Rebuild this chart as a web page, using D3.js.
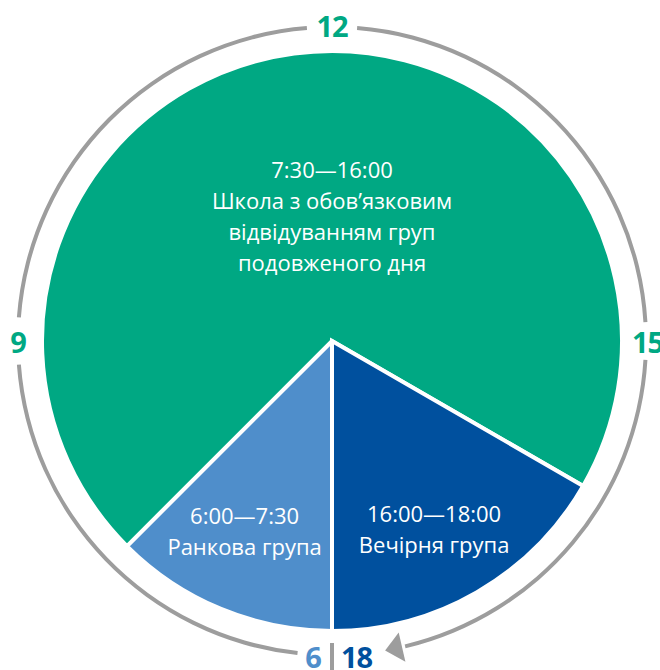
<!DOCTYPE html>
<html lang="uk">
<head>
  <meta charset="UTF-8">
  <title>Режим дня</title>
  <style>
    body { margin: 0; background: #fff; }
    text { font-family: 'Open Sans', 'Noto Sans', sans-serif; }
  </style>
</head>
<body>
  <svg id="svg" width="660" height="670"></svg>
  <script src="https://d3js.org/d3.v7.min.js"></script>
  <script>
    // slices, in clockwise order starting at 6:00
    const periods = ['6:00—7:30', '7:30—16:00', '16:00—18:00']
    const names = [
      ['Ранкова група'],
      ['Школа з обов’язковим', 'відвідуванням груп', 'подовженого дня'],
      ['Вечірня група']
    ]
    const durations = [1.5, 8.5, 2]
    const labelHours = [6.82, 12, 17.05]
    const labelRadius = [210, 125, 214]

    // dial
    const hourTicks = [6, 9, 12, 15, 18]
    const tickLabels = ['6', '9', '12', '15', '18']

    const cx = 332, cy = 341
    const R = 290, ringR = 314

    const svg = d3.select('#svg')
    const g = svg.append('g').attr('transform', `translate(${cx},${cy})`)

    // 6h -> bottom, 12h -> top, 18h -> bottom again (clockwise)
    const angle = d3.scaleLinear().domain([6, 18]).range([Math.PI, 3 * Math.PI])

    const color = d3.scaleOrdinal()
      .domain(periods)
      .range(['#4f8ecb', '#00a883', '#00509e'])

    const pie = d3.pie().sort(null)
      .startAngle(angle(6)).endAngle(angle(18))
    const arc = d3.arc().innerRadius(0).outerRadius(R)

    const slices = pie(durations)

    g.selectAll('path.slice')
      .data(slices)
      .enter()
      .append('path')
      .attr('class', 'slice')
      .attr('d', arc)
      .attr('fill', (d, i) => color(periods[i]))
      .attr('stroke', '#fff')
      .attr('stroke-width', 4)
      .attr('stroke-linejoin', 'miter')

    // slice labels
    const lineH = 31
    slices.forEach((d, i) => {
      const a = angle(labelHours[i])
      const x = labelRadius[i] * Math.sin(a)
      const y = -labelRadius[i] * Math.cos(a)
      const lines = [periods[i]].concat(names[i])
      const top = y - (lines.length - 1) * lineH / 2
      g.append('text')
        .attr('text-anchor', 'middle')
        .attr('fill', '#fff')
        .style('font-size', '22px')
        .selectAll('tspan')
        .data(lines)
        .enter()
        .append('tspan')
        .attr('x', x)
        .attr('y', (l, j) => top + j * lineH + 8)
        .text(l => l)
    })

    // grey dial ring with gaps for the hour numbers
    const gaps = { 9: 0.075, 12: 0.08, 15: 0.06 }
    const ringStart = angle(6) + 0.11
    const ringEnd = angle(18) - 0.235
    const ringArc = d3.arc().innerRadius(ringR - 2).outerRadius(ringR + 2)
    const cuts = [ringStart]
    ;[9, 12, 15].forEach(h => { cuts.push(angle(h) - gaps[h]); cuts.push(angle(h) + gaps[h]) })
    cuts.push(ringEnd)
    for (let k = 0; k < cuts.length; k += 2) {
      g.append('path')
        .attr('d', ringArc({ startAngle: cuts[k], endAngle: cuts[k + 1] }))
        .attr('fill', '#9d9d9d')
    }

    // arrow head at the end of the ring (pointing in the clockwise direction)
    const tipA = angle(18) - 0.17
    const baseA = ringEnd + 0.01
    const tip = [ringR * Math.sin(tipA), -ringR * Math.cos(tipA)]
    const base = [ringR * Math.sin(baseA), -ringR * Math.cos(baseA)]
    const nx = Math.sin(baseA), ny = -Math.cos(baseA)
    const hw = 15
    g.append('path')
      .attr('d', d3.line()([
        tip,
        [base[0] + nx * hw, base[1] + ny * hw],
        [base[0] - nx * hw, base[1] - ny * hw]
      ]) + 'Z')
      .attr('fill', '#9d9d9d')

    // separator between 6 and 18
    g.append('line')
      .attr('x1', 0).attr('x2', 0)
      .attr('y1', ringR - 12).attr('y2', ringR + 20)
      .attr('stroke', '#9d9d9d')
      .attr('stroke-width', 4)

    // hour numbers
    const tickColor = ['#4f8ecb', '#00a883', '#00a883', '#00a883', '#00509e']
    const tickPos = [
      { x: -19, y: ringR + 13, anchor: 'middle' },
      { x: -ringR, y: 12, anchor: 'middle' },
      { x: 0, y: -ringR + 10, anchor: 'middle' },
      { x: ringR - 14, y: 12, anchor: 'start' },
      { x: 9, y: ringR + 13, anchor: 'start' }
    ]
    g.selectAll('text.tick')
      .data(hourTicks)
      .enter()
      .append('text')
      .attr('class', 'tick')
      .attr('x', (d, i) => tickPos[i].x)
      .attr('y', (d, i) => tickPos[i].y)
      .attr('text-anchor', (d, i) => tickPos[i].anchor)
      .attr('fill', (d, i) => tickColor[i])
      .style('font-size', '29px')
      .style('font-weight', 'bold')
      .style('letter-spacing', '-1px')
      .text((d, i) => tickLabels[i])
  </script>
</body>
</html>
